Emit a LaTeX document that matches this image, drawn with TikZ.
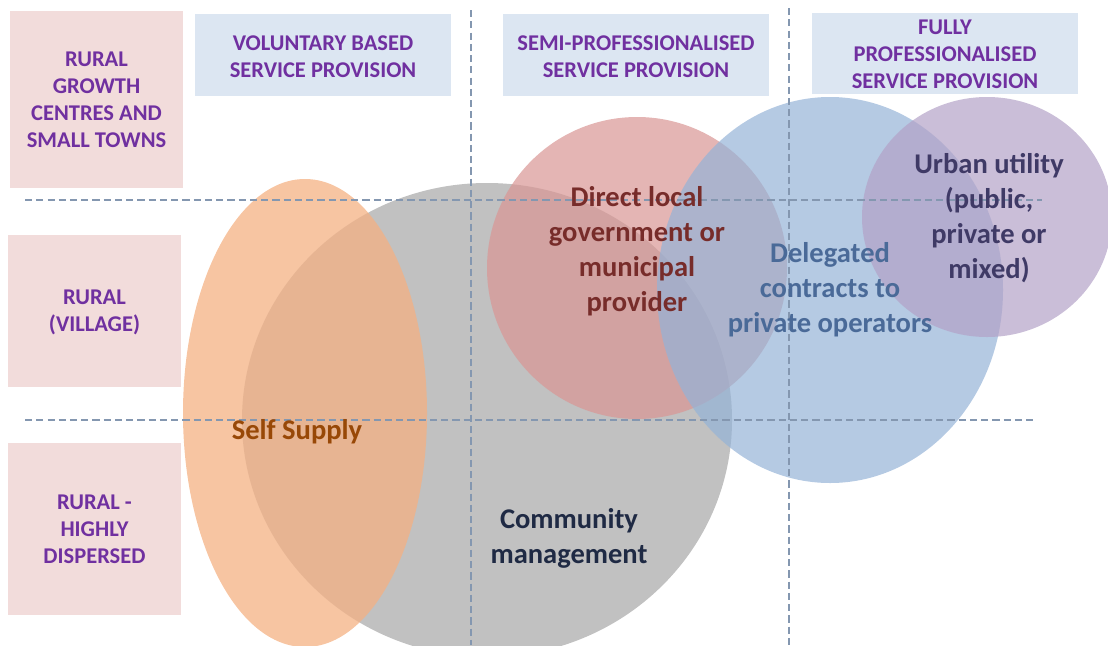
\documentclass[tikz,border=0pt]{standalone}
\usepackage{fontspec}
\setmainfont{Carlito}
\usetikzlibrary{calc}

\definecolor{rowfill}{HTML}{F2DCDB}
\definecolor{colfill}{HTML}{DCE6F2}
\definecolor{labeltext}{HTML}{7030A0}
\definecolor{gridline}{HTML}{8497B0}
\definecolor{selfc}{HTML}{F4B183}
\definecolor{commc}{HTML}{A6A6A6}
\definecolor{directc}{HTML}{D99694}
\definecolor{delegc}{HTML}{95B3D7}
\definecolor{urbanc}{HTML}{B3A2C7}
\definecolor{selftext}{HTML}{984807}
\definecolor{commtext}{HTML}{1F2A44}
\definecolor{directtext}{HTML}{772C2A}
\definecolor{delegtext}{HTML}{4A6A98}
\definecolor{urbantext}{HTML}{3F3A66}

\tikzset{
	labeltxt/.style={font=\fontsize{16}{19.2}\selectfont\bfseries, text=labeltext, align=center},
	bigtxt/.style={font=\fontsize{20.3}{25}\selectfont\bfseries, align=center},
	grid/.style={gridline, line width=1.4pt, dash pattern=on 5pt off 3pt},
	blob/.style={fill opacity=0.7}
}

\begin{document}
\begin{tikzpicture}[x=0.025cm, y=-0.025cm]
		%%%%% START %%%%%
		\useasboundingbox (0,0) rectangle (1108,645);
		\clip (0,0) rectangle (1108,645);
		
		% row labels
		\fill[rowfill] (10, 11) rectangle (183, 188);
		\node[labeltxt] (towns) at (96.5, 100) {RURAL\\GROWTH\\CENTRES AND\\SMALL TOWNS};
		\fill[rowfill] (8, 235) rectangle (181, 387);
		\node[labeltxt] (village) at (94.5, 312) {RURAL\\(VILLAGE)};
		\fill[rowfill] (8, 443) rectangle (181, 615);
		\node[labeltxt] (dispersed) at (94.5, 529) {RURAL -\\HIGHLY\\DISPERSED};
		
		% column headers
		\fill[colfill] (195, 14) rectangle (451, 96);
		\node[labeltxt] (voluntary) at (323, 57) {VOLUNTARY BASED\\SERVICE PROVISION};
		\fill[colfill] (503, 14) rectangle (769, 96);
		\node[labeltxt] (semipro) at (636, 57) {SEMI-PROFESSIONALISED\\SERVICE PROVISION};
		\fill[colfill] (812, 13) rectangle (1078, 94);
		\node[labeltxt] (fullypro) at (945, 54) {FULLY\\PROFESSIONALISED\\SERVICE PROVISION};
		
		% management models
		\fill[commc, blob] (487, 420) ellipse (245 and 237);
		\fill[selfc, blob, fill opacity=0.75] (305, 413) ellipse (122 and 234);
		\fill[directc, blob] (637, 268) ellipse (150 and 151);
		\fill[delegc, blob] (830, 290) ellipse (173 and 193);
		\fill[urbanc, blob] (987, 217) ellipse (125 and 120);
		
		% grid
		\draw[grid] (25, 200) -- (1042, 200);
		\draw[grid] (25, 420) -- (1035, 420);
		\draw[grid] (471, 10) -- (471, 645);
		\draw[grid] (789, 8) -- (789, 645);
		
		\node[bigtxt, text=selftext] (selfsupply) at (297, 432) {Self Supply};
		\node[bigtxt, text=commtext] (community) at (569, 538) {Community\\management};
		\node[bigtxt, text=directtext] (direct) at (637, 251) {Direct local\\government or\\municipal\\provider};
		\node[bigtxt, text=delegtext] (delegated) at (830, 290) {Delegated\\contracts to\\private operators};
		\node[bigtxt, text=urbantext] (urban) at (989, 218) {Urban utility\\(public,\\private or\\mixed)};
		%%%%% END %%%%%
\end{tikzpicture}
\end{document}
